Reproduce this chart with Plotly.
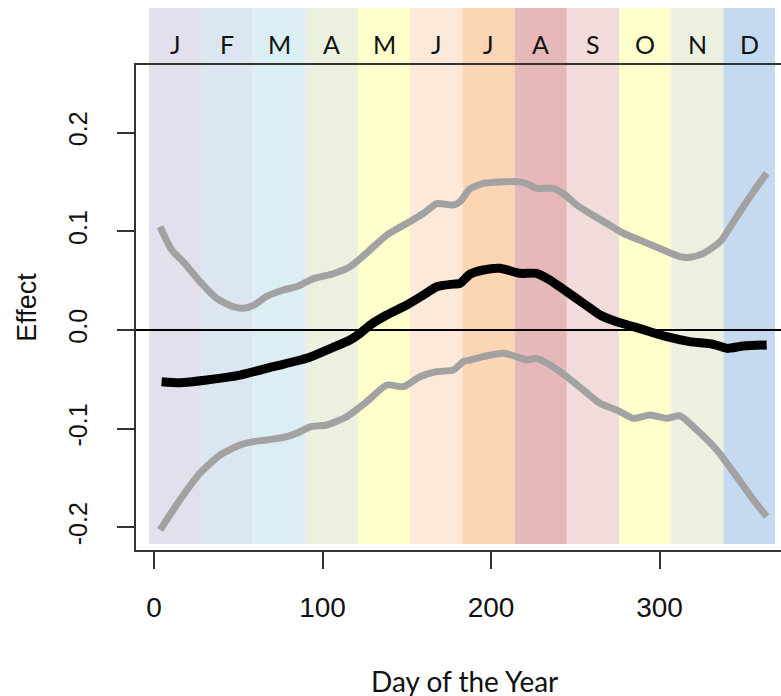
import plotly.graph_objects as go

# ---- data ----
months = ["J", "F", "M", "A", "M", "J", "J", "A", "S", "O", "N", "D"]
month_edges = [-3, 28, 59, 90, 121, 152, 183, 214, 245, 276, 307, 338, 368.5]
month_colors = ["#e4dfec", "#dce6f1", "#daeef3", "#ebf1de", "#ffffcc", "#fde9d9",
                "#fcd5b4", "#e6b8b7", "#f2dcdb", "#ffffcc", "#ebf1de", "#c5d9f1"]

day_upper = [3.6, 10.5, 17.4, 27.3, 37.2, 47, 53, 59, 66.9, 76.7, 84.7, 94.6, 106.4, 116.3,
             126.2, 138, 150, 159.8, 167.8, 177.6, 181.6, 187.5, 195.4, 205.3, 217.2, 223,
             227, 237, 243, 250.9, 258.8, 268.7, 278.5, 290.4, 302.3, 312.2, 318, 326, 336,
             345.8, 355.7, 363.6]
upper = [0.1046, 0.081, 0.069, 0.049, 0.032, 0.0236, 0.022, 0.025, 0.034, 0.0405, 0.044,
         0.052, 0.057, 0.064, 0.078, 0.096, 0.108, 0.118, 0.128, 0.1266, 0.13, 0.143, 0.1485,
         0.150, 0.150, 0.1468, 0.1435, 0.1435, 0.138, 0.1266, 0.118, 0.108, 0.098, 0.0895,
         0.081, 0.0743, 0.0736, 0.0777, 0.0895, 0.1147, 0.14, 0.1587]

day_mean = [4.5, 15.4, 31.3, 51, 70.8, 90.6, 102.5, 116.3, 122.3, 128.2, 138.1, 150, 159.8,
            167.8, 177.6, 181.6, 187.5, 195.4, 205.3, 217.2, 227, 235, 245, 254.8, 264.7,
            274.6, 284.5, 294.4, 304.3, 318, 332, 340, 349.7, 363.6]
mean = [-0.0523, -0.0533, -0.0506, -0.0456, -0.0371, -0.0287, -0.0203, -0.0101, -0.0034,
        0.005, 0.0152, 0.0253, 0.0354, 0.0439, 0.0465, 0.0473, 0.0565, 0.0608, 0.0625,
        0.0574, 0.0574, 0.0506, 0.0388, 0.027, 0.0152, 0.0084, 0.0034, -0.0017, -0.0068,
        -0.0118, -0.0145, -0.0186, -0.0162, -0.0152]

day_lower = [3.6, 15.4, 27.3, 39.2, 51, 59, 66.9, 78.8, 84.7, 92.6, 102.5, 114.4, 126.2,
             138.1, 148, 157.9, 167.8, 177.6, 183.6, 187.5, 195.4, 207.3, 215.2, 221.2, 227,
             235, 245, 254.8, 264.7, 274.6, 284.5, 294.4, 304.3, 312.2, 322, 334, 345.8,
             355.7, 363.6]
lower = [-0.2025, -0.172, -0.145, -0.1266, -0.1165, -0.113, -0.1114, -0.108, -0.1046,
         -0.098, -0.0962, -0.0878, -0.0726, -0.0557, -0.0574, -0.0473, -0.0422, -0.0405,
         -0.0321, -0.0304, -0.027, -0.0236, -0.027, -0.0304, -0.0287, -0.0354, -0.0473,
         -0.0608, -0.0743, -0.081, -0.0894, -0.086, -0.0894, -0.087, -0.101, -0.1215,
         -0.1485, -0.172, -0.189]

x_ticks = [0, 100, 200, 300]
y_ticks = [-0.2, -0.1, 0.0, 0.1, 0.2]
y_ticklabels = ["-0.2", "-0.1", "0.0", "0.1", "0.2"]

# ---- figure ----
fig = go.Figure()

gray = "#a2a2a2"
fig.add_trace(go.Scatter(x=day_upper, y=upper, mode="lines",
                         line=dict(color=gray, width=7, shape="spline", smoothing=0.6),
                         hoverinfo="skip"))
fig.add_trace(go.Scatter(x=day_lower, y=lower, mode="lines",
                         line=dict(color=gray, width=7, shape="spline", smoothing=0.6),
                         hoverinfo="skip"))
fig.add_trace(go.Scatter(x=day_mean, y=mean, mode="lines",
                         line=dict(color="black", width=9, shape="spline", smoothing=0.6),
                         hoverinfo="skip"))

shapes = []
annotations = []
for i, m in enumerate(months):
    shapes.append(dict(type="rect", xref="x", yref="paper",
                       x0=month_edges[i], x1=month_edges[i + 1], y0=0.0124, y1=1.1175,
                       fillcolor=month_colors[i], line=dict(width=0), layer="below"))
    annotations.append(dict(x=(month_edges[i] + month_edges[i + 1]) / 2, xref="x",
                            y=1.043, yref="paper", text=m, showarrow=False,
                            xanchor="center", yanchor="middle",
                            font=dict(family="Lato, Open Sans, sans-serif", size=25,
                                      color="#111111")))
# zero reference line
shapes.append(dict(type="line", xref="paper", yref="y", x0=0, x1=1, y0=0, y1=0,
                   line=dict(color="black", width=2), layer="above"))

# x-axis title
annotations.append(dict(x=0.51, xref="paper", y=-0.27, yref="paper",
                        text="Day of the Year", showarrow=False, xanchor="center",
                        yanchor="middle",
                        font=dict(family="Lato, Open Sans, sans-serif", size=28,
                                  color="#111111")))

fig.update_layout(
    width=781, height=696,
    margin=dict(l=136, r=0, t=65, b=146, autoexpand=False),
    paper_bgcolor="white", plot_bgcolor="white",
    showlegend=False,
    shapes=shapes,
    annotations=annotations,
    xaxis=dict(range=[-10.7, 372.1], tickvals=x_ticks, ticks="outside", ticklen=17,
               tickwidth=2, tickcolor="#333333", showline=True, linecolor="#333333",
               linewidth=2, mirror=True, showgrid=False, zeroline=False,
               automargin=False,
               tickfont=dict(family="Liberation Sans, Arial, sans-serif", size=28,
                             color="#111111"),
               ticklabelstandoff=14),
    yaxis=dict(range=[-0.2228, 0.2684], tickvals=y_ticks, ticktext=y_ticklabels,
               ticks="outside", ticklen=17, tickwidth=2, tickcolor="#333333",
               showline=True, linecolor="#333333", linewidth=2, mirror=False,
               showgrid=False, zeroline=False, tickangle=-90, automargin=False,
               tickfont=dict(family="Liberation Sans, Arial, sans-serif", size=25,
                             color="#111111"),
               ticklabelstandoff=20,
               title=dict(text="Effect", standoff=20,
                          font=dict(family="Liberation Sans, Arial, sans-serif", size=27,
                                    color="#111111"))),
)

fig.write_html("out.html",
               config={"displayModeBar": False},
               post_script="document.body.style.margin='0';document.body.style.overflow='hidden';")
